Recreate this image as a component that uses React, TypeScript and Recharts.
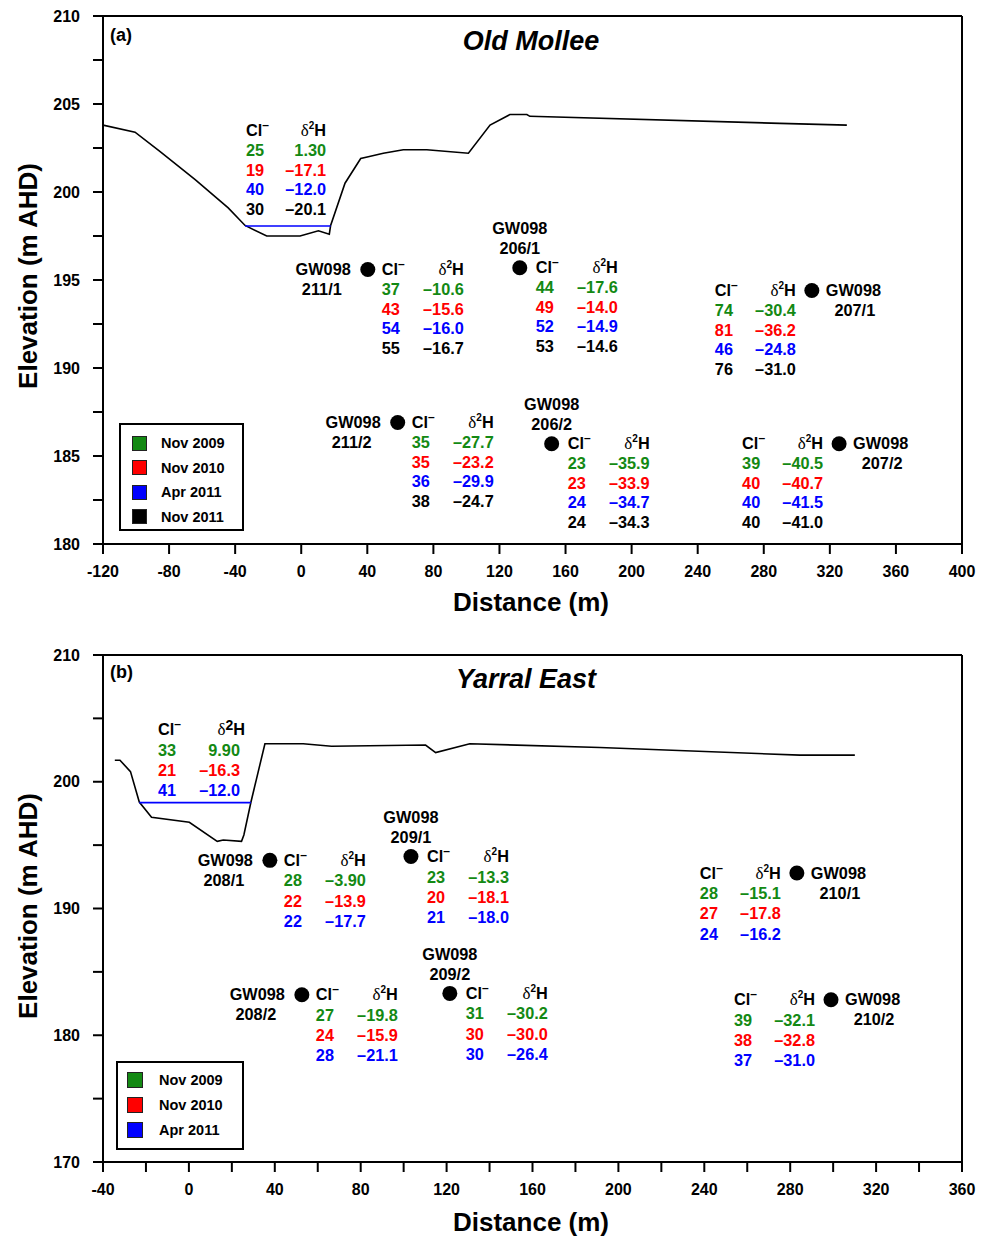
import React from 'react';
import { ComposedChart, Line, Scatter, XAxis, YAxis, ReferenceLine } from 'recharts';

const FONT = '"Liberation Sans", Arial, Helvetica, sans-serif';

const campaigns = ['Nov 2009', 'Nov 2010', 'Apr 2011', 'Nov 2011'];
const campaignColors = ['#138913', '#ff0000', '#0000ff', '#000000'];

// ---- (a) Old Mollee ----
const oldMolleeXTicks = [-120, -80, -40, 0, 40, 80, 120, 160, 200, 240, 280, 320, 360, 400];
const oldMolleeYTicks = [180, 182.5, 185, 187.5, 190, 192.5, 195, 197.5, 200, 202.5, 205, 207.5, 210];

const oldMolleeProfile = [
  { x: -120, y: 203.8 }, { x: -100.6, y: 203.4 }, { x: -85.4, y: 202.3 }, { x: -64.2, y: 200.7 },
  { x: -44.2, y: 199.1 }, { x: -34, y: 198.1 }, { x: -20.9, y: 197.5 }, { x: -0.7, y: 197.5 },
  { x: 10.4, y: 197.8 }, { x: 17, y: 197.6 }, { x: 17.8, y: 198.1 }, { x: 26.5, y: 200.5 },
  { x: 36, y: 201.9 }, { x: 40.6, y: 202.0 }, { x: 49.7, y: 202.2 }, { x: 61.8, y: 202.4 },
  { x: 76, y: 202.4 }, { x: 101.2, y: 202.2 }, { x: 114.3, y: 203.8 }, { x: 126.3, y: 204.4 },
  { x: 136.6, y: 204.4 }, { x: 138.4, y: 204.3 }, { x: 289.8, y: 203.9 }, { x: 330.3, y: 203.8 },
];
const oldMolleeWater = [{ x: -34, y: 198.07 }, { x: 17.8, y: 198.07 }];
const oldMolleeStream = [{ id: 'stream', x: -33.4, y: 203.5 }];
const oldMolleeWells = [
  { id: '211/1', x: 40.3, y: 195.6 },
  { id: '206/1', x: 132.3, y: 195.7 },
  { id: '207/1', x: 309.1, y: 194.4 },
  { id: '211/2', x: 58.4, y: 186.9 },
  { id: '206/2', x: 151.6, y: 185.7 },
  { id: '207/2', x: 325.6, y: 185.7 },
];
const oldMolleeCl: Record<string, number[]> = {
  stream: [25, 19, 40, 30],
  '211/1': [37, 43, 54, 55],
  '206/1': [44, 49, 52, 53],
  '207/1': [74, 81, 46, 76],
  '211/2': [35, 35, 36, 38],
  '206/2': [23, 23, 24, 24],
  '207/2': [39, 40, 40, 40],
};
const oldMolleeD2H: Record<string, number[]> = {
  stream: [1.3, -17.1, -12.0, -20.1],
  '211/1': [-10.6, -15.6, -16.0, -16.7],
  '206/1': [-17.6, -14.0, -14.9, -14.6],
  '207/1': [-30.4, -36.2, -24.8, -31.0],
  '211/2': [-27.7, -23.2, -29.9, -24.7],
  '206/2': [-35.9, -33.9, -34.7, -34.3],
  '207/2': [-40.5, -40.7, -41.5, -41.0],
};

// ---- (b) Yarral East ----
const yarralXTicks = [-40, -20, 0, 20, 40, 60, 80, 100, 120, 140, 160, 180, 200, 220, 240, 260, 280, 300, 320, 340, 360];
const yarralYTicks = [170, 175, 180, 185, 190, 195, 200, 205, 210];

const yarralProfile = [
  { x: -34.5, y: 201.7 }, { x: -32.1, y: 201.7 }, { x: -27.2, y: 200.8 }, { x: -23.1, y: 198.4 },
  { x: -17.4, y: 197.2 }, { x: 0.2, y: 196.8 }, { x: 13.2, y: 195.3 }, { x: 16, y: 195.4 },
  { x: 24.5, y: 195.3 }, { x: 25.6, y: 195.8 }, { x: 28.9, y: 198.4 }, { x: 35.4, y: 203.0 },
  { x: 53.2, y: 203.0 }, { x: 66.4, y: 202.8 }, { x: 110.2, y: 202.9 }, { x: 114.9, y: 202.3 },
  { x: 130.8, y: 203.0 }, { x: 191.4, y: 202.7 }, { x: 284.5, y: 202.1 }, { x: 310.1, y: 202.1 },
];
const yarralWater = [{ x: -23.1, y: 198.35 }, { x: 28.9, y: 198.35 }];
const yarralStream = [{ id: 'stream', x: -14.4, y: 204.1 }];
const yarralWells = [
  { id: '208/1', x: 37.7, y: 193.8 },
  { id: '209/1', x: 103.4, y: 194.1 },
  { id: '210/1', x: 283.1, y: 192.8 },
  { id: '208/2', x: 52.6, y: 183.2 },
  { id: '209/2', x: 121.5, y: 183.3 },
  { id: '210/2', x: 299.0, y: 182.8 },
];
const yarralCl: Record<string, number[]> = {
  stream: [33, 21, 41],
  '208/1': [28, 22, 22],
  '209/1': [23, 20, 21],
  '210/1': [28, 27, 24],
  '208/2': [27, 24, 28],
  '209/2': [31, 30, 30],
  '210/2': [39, 38, 37],
};
const yarralD2H: Record<string, number[]> = {
  stream: [9.9, -16.3, -12.0],
  '208/1': [-3.9, -13.9, -17.7],
  '209/1': [-13.3, -18.1, -18.0],
  '210/1': [-15.1, -17.8, -16.2],
  '208/2': [-19.8, -15.9, -21.1],
  '209/2': [-30.2, -30.0, -26.4],
  '210/2': [-32.1, -32.8, -31.0],
};

// where the well name sits relative to the dot
const nameSide: Record<string, 'left' | 'above' | 'right'> = {
  '211/1': 'left', '206/1': 'above', '207/1': 'right',
  '211/2': 'left', '206/2': 'above', '207/2': 'right',
  '208/1': 'left', '209/1': 'above', '210/1': 'right',
  '208/2': 'left', '209/2': 'above', '210/2': 'right',
};

const fmt = (v: number) => v.toPrecision(3).replace('-', '\u2013');

const txt = { fontFamily: FONT, fontSize: 16.3, fontWeight: 700 } as const;

const ClHead = ({ x, y }: { x: number; y: number }) => (
  <text x={x} y={y} dy="0.35em" {...txt} fill="#000">
    Cl<tspan fontSize={12} dy={-7}>{'\u2013'}</tspan>
  </text>
);

const DHead = ({ x, y, big }: { x: number; y: number; big?: boolean }) => (
  <text x={x} y={y} dy="0.35em" {...txt} fill="#000" textAnchor="end">
    <tspan fontFamily='"Liberation Serif", serif' fontWeight={400} fontSize={17}>δ</tspan>
    <tspan fontSize={big ? 14 : 10} dy={big ? -5 : -7}>2</tspan>
    <tspan dy={big ? 5 : 7}>H</tspan>
  </text>
);

const Table = ({ y, clX, dX, gap, cl, d2h, big, headDx = 0 }: any) => (
  <g>
    <ClHead x={clX} y={y} />
    <DHead x={dX + headDx} y={y} big={big} />
    {cl.map((c: number, i: number) => (
      <g key={i}>
        <text x={clX} y={y + gap * (i + 1)} dy="0.35em" {...txt} fill={campaignColors[i]}>{c}</text>
        <text x={dX} y={y + gap * (i + 1)} dy="0.35em" {...txt} fill={campaignColors[i]} textAnchor="end">
          {fmt(d2h[i])}
        </text>
      </g>
    ))}
  </g>
);

const makeWellShape = (clMap: Record<string, number[]>, dMap: Record<string, number[]>, gap: number) =>
  (props: any) => {
    const { cx, cy, payload } = props;
    const id = payload.id;
    const side = nameSide[id];
    const cl = clMap[id];
    const d2h = dMap[id];
    let name: React.ReactNode = null;
    let table: React.ReactNode = null;
    if (side === 'left') {
      name = (
        <g>
          <text x={cx - 17} y={cy} dy="0.35em" {...txt} textAnchor="end">GW098</text>
          <text x={cx - 46} y={cy + 20} dy="0.35em" {...txt} textAnchor="middle">{id}</text>
        </g>
      );
      table = <Table y={cy} clX={cx + 14} dX={cx + 96} gap={gap} cl={cl} d2h={d2h} />;
    } else if (side === 'above') {
      name = (
        <g>
          <text x={cx} y={cy - 39} dy="0.35em" {...txt} textAnchor="middle">GW098</text>
          <text x={cx} y={cy - 19} dy="0.35em" {...txt} textAnchor="middle">{id}</text>
        </g>
      );
      table = <Table y={cy} clX={cx + 16} dX={cx + 98} gap={gap} cl={cl} d2h={d2h} />;
    } else {
      name = (
        <g>
          <text x={cx + 14} y={cy} dy="0.35em" {...txt} textAnchor="start">GW098</text>
          <text x={cx + 43} y={cy + 20} dy="0.35em" {...txt} textAnchor="middle">{id}</text>
        </g>
      );
      table = <Table y={cy} clX={cx - 97} dX={cx - 16} gap={gap} cl={cl} d2h={d2h} />;
    }
    return (
      <g>
        <circle cx={cx} cy={cy} r={7.5} fill="#000" />
        {name}
        {table}
      </g>
    );
  };

const makeStreamShape = (
  clMap: Record<string, number[]>, dMap: Record<string, number[]>, gap: number, width: number, big = false,
) =>
  (props: any) => {
    const { cx, cy } = props;
    return (
      <Table y={cy} clX={cx} dX={cx + width} gap={gap} cl={clMap.stream} d2h={dMap.stream}
        big={big} headDx={big ? 5 : 0} />
    );
  };

const axisStroke = { stroke: '#000', strokeWidth: 2 };
const tickStyle = { fontSize: 16, fontWeight: 700, fill: '#000', fontFamily: FONT };

const Legend = ({ left, top, width, height, n, sw, swLeft, textLeft, rowTop, rowGap }: any) => (
  <div
    style={{
      position: 'absolute', left, top, width, height, border: '2px solid #000',
      boxSizing: 'border-box', background: '#fff',
    }}
  >
    {campaigns.slice(0, n).map((c, i) => (
      <div key={c}>
        <div
          style={{
            position: 'absolute', left: swLeft, top: rowTop + rowGap * i - sw / 2, width: sw, height: sw,
            background: campaignColors[i], border: '1px solid #222', boxSizing: 'border-box',
          }}
        />
        <div
          style={{
            position: 'absolute', left: textLeft, top: rowTop + rowGap * i - 9, lineHeight: '18px',
            fontSize: 14.5, fontWeight: 700, whiteSpace: 'nowrap',
          }}
        >
          {c}
        </div>
      </div>
    ))}
  </div>
);

const Label = ({ x, y, size, children, italic, rotate }: any) => (
  <div
    style={{
      position: 'absolute', left: x, top: y, transform: `translate(-50%, -50%)${rotate ? ' rotate(-90deg)' : ''}`,
      fontSize: size, fontWeight: 700, fontStyle: italic ? 'italic' : 'normal', whiteSpace: 'nowrap',
      lineHeight: 1,
    }}
  >
    {children}
  </div>
);

export default function App() {
  return (
    <div
      style={{
        position: 'absolute', left: 0, top: 0, width: 986, height: 1236, background: '#fff',
        fontFamily: FONT, color: '#000', overflow: 'hidden',
      }}
    >
      <div style={{ position: 'absolute', left: 0, top: 0 }}>
        <ComposedChart width={986} height={630} margin={{ top: 16, right: 24, bottom: 56, left: 43 }}>
          <XAxis
            type="number" dataKey="x" domain={[-120, 400]} ticks={oldMolleeXTicks} allowDataOverflow
            height={30} tickSize={10} tickMargin={12} axisLine={axisStroke} tickLine={axisStroke} tick={tickStyle}
          />
          <YAxis
            type="number" dataKey="y" domain={[180, 210]} ticks={oldMolleeYTicks} allowDataOverflow
            width={60} tickSize={10} tickMargin={13} axisLine={axisStroke} tickLine={axisStroke} tick={tickStyle}
            tickFormatter={(v: number) => (v % 5 === 0 ? String(v) : '')}
          />
          <ReferenceLine y={210} stroke="#000" strokeWidth={2} />
          <ReferenceLine x={400} stroke="#000" strokeWidth={2} />
          <Line data={oldMolleeProfile} dataKey="y" stroke="#000" strokeWidth={1.6} dot={false} isAnimationActive={false} />
          <Line data={oldMolleeWater} dataKey="y" stroke="#0000ff" strokeWidth={1.6} dot={false} isAnimationActive={false} />
          <Scatter data={oldMolleeStream} shape={makeStreamShape(oldMolleeCl, oldMolleeD2H, 19.7, 80)} isAnimationActive={false} />
          <Scatter data={oldMolleeWells} shape={makeWellShape(oldMolleeCl, oldMolleeD2H, 19.7)} isAnimationActive={false} />
        </ComposedChart>
      </div>

      <div style={{ position: 'absolute', left: 0, top: 630 }}>
        <ComposedChart width={986} height={606} margin={{ top: 25, right: 24, bottom: 44, left: 43 }}>
          <XAxis
            type="number" dataKey="x" domain={[-40, 360]} ticks={yarralXTicks} allowDataOverflow
            height={30} tickSize={10} tickMargin={12} axisLine={axisStroke} tickLine={axisStroke} tick={tickStyle}
            tickFormatter={(v: number) => (v % 40 === 0 ? String(v) : '')}
          />
          <YAxis
            type="number" dataKey="y" domain={[170, 210]} ticks={yarralYTicks} allowDataOverflow
            width={60} tickSize={10} tickMargin={13} axisLine={axisStroke} tickLine={axisStroke} tick={tickStyle}
            tickFormatter={(v: number) => (v % 10 === 0 ? String(v) : '')}
          />
          <ReferenceLine y={210} stroke="#000" strokeWidth={2} />
          <ReferenceLine x={360} stroke="#000" strokeWidth={2} />
          <Line data={yarralProfile} dataKey="y" stroke="#000" strokeWidth={1.6} dot={false} isAnimationActive={false} />
          <Line data={yarralWater} dataKey="y" stroke="#0000ff" strokeWidth={1.6} dot={false} isAnimationActive={false} />
          <Scatter data={yarralStream} shape={makeStreamShape(yarralCl, yarralD2H, 20.3, 82, true)} isAnimationActive={false} />
          <Scatter data={yarralWells} shape={makeWellShape(yarralCl, yarralD2H, 20.3)} isAnimationActive={false} />
        </ComposedChart>
      </div>

      {/* titles and axis labels */}
      <Label x={531} y={41} size={27} italic>Old Mollee</Label>
      <Label x={526} y={679} size={27} italic>Yarral East</Label>
      <div style={{ position: 'absolute', left: 110, top: 25, fontSize: 18, fontWeight: 700, lineHeight: '20px' }}>(a)</div>
      <div style={{ position: 'absolute', left: 110, top: 662, fontSize: 18, fontWeight: 700, lineHeight: '20px' }}>(b)</div>
      <Label x={531} y={602} size={26}>Distance (m)</Label>
      <Label x={531} y={1222} size={26}>Distance (m)</Label>
      <Label x={28} y={276} size={26} rotate>Elevation (m AHD)</Label>
      <Label x={28} y={906} size={26} rotate>Elevation (m AHD)</Label>

      <Legend left={119} top={423} width={125} height={108} n={4} sw={15} swLeft={11} textLeft={40} rowTop={18} rowGap={24.5} />
      <Legend left={116} top={1061} width={128} height={89} n={3} sw={16} swLeft={9} textLeft={41} rowTop={17} rowGap={25} />
    </div>
  );
}
